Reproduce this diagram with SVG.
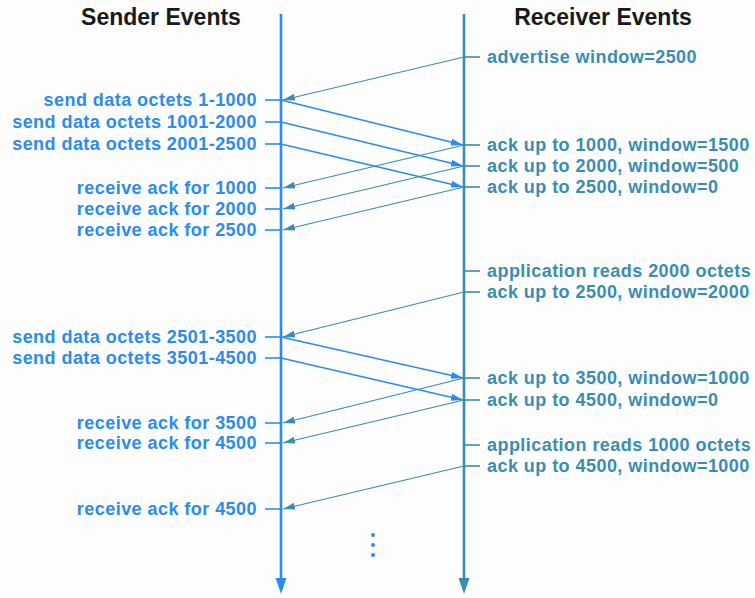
<svg xmlns="http://www.w3.org/2000/svg" width="755" height="598" viewBox="0 0 755 598">
  <defs>
    <style>
      .title { font-family: "Liberation Sans", Arial, sans-serif; font-weight: bold; font-size: 23px; fill: #1a1a1a; }
      .s { font-family: "Liberation Sans", Arial, sans-serif; font-weight: bold; font-size: 18px; letter-spacing: 0.45px; fill: #2a8cf0; text-anchor: end; }
      .r { font-family: "Liberation Sans", Arial, sans-serif; font-weight: bold; font-size: 18px; letter-spacing: 0.45px; fill: #3a8db0; }
      .stick { stroke: #2a8cf0; stroke-width: 1.6; }
      .rtick { stroke: #3a8db0; stroke-width: 1.6; }
      .fwd { stroke: #2a8cf0; stroke-width: 1.4; fill: none; marker-end: url(#ab); }
      .back { stroke: #3a8db0; stroke-width: 1.2; fill: none; marker-end: url(#at); }
    </style>
    <marker id="ab" viewBox="0 0 12 7" refX="12" refY="3.5" markerWidth="12" markerHeight="7" markerUnits="userSpaceOnUse" orient="auto">
      <path d="M0,0 L12,3.5 L0,7 z" fill="#2a8cf0"/>
    </marker>
    <marker id="at" viewBox="0 0 12 7" refX="12" refY="3.5" markerWidth="12" markerHeight="7" markerUnits="userSpaceOnUse" orient="auto">
      <path d="M0,0 L12,3.5 L0,7 z" fill="#3a8db0"/>
    </marker>
  </defs>
  <rect width="755" height="598" fill="#fdfdfd"/>

  <g id="sender-axis">
    <text class="title" x="161" y="25" text-anchor="middle">Sender Events</text>
    <line x1="281" y1="14" x2="281" y2="580" stroke="#2a8cf0" stroke-width="2.6"/>
    <path d="M275.5,578 L286.5,578 L281,594 z" fill="#2a8cf0"/>
  </g>
  <g id="receiver-axis">
    <text class="title" x="603" y="25" text-anchor="middle">Receiver Events</text>
    <line x1="464" y1="14" x2="464" y2="580" stroke="#3a8db0" stroke-width="2.6"/>
    <path d="M458.5,578 L469.5,578 L464,594 z" fill="#3a8db0"/>
  </g>

  <g id="s1"><line class="stick" x1="265" y1="100" x2="281" y2="100"/><text class="s" x="257" y="106">send data octets 1-1000</text></g>
  <g id="s2"><line class="stick" x1="265" y1="122" x2="281" y2="122"/><text class="s" x="257" y="128">send data octets 1001-2000</text></g>
  <g id="s3"><line class="stick" x1="265" y1="144" x2="281" y2="144"/><text class="s" x="257" y="150">send data octets 2001-2500</text></g>
  <g id="s4"><line class="stick" x1="265" y1="188" x2="281" y2="188"/><text class="s" x="257" y="194">receive ack for 1000</text></g>
  <g id="s5"><line class="stick" x1="265" y1="209" x2="281" y2="209"/><text class="s" x="257" y="215">receive ack for 2000</text></g>
  <g id="s6"><line class="stick" x1="265" y1="230" x2="281" y2="230"/><text class="s" x="257" y="236">receive ack for 2500</text></g>
  <g id="s7"><line class="stick" x1="265" y1="337" x2="281" y2="337"/><text class="s" x="257" y="343">send data octets 2501-3500</text></g>
  <g id="s8"><line class="stick" x1="265" y1="358" x2="281" y2="358"/><text class="s" x="257" y="364">send data octets 3501-4500</text></g>
  <g id="s9"><line class="stick" x1="265" y1="423" x2="281" y2="423"/><text class="s" x="257" y="429">receive ack for 3500</text></g>
  <g id="s10"><line class="stick" x1="265" y1="443" x2="281" y2="443"/><text class="s" x="257" y="449">receive ack for 4500</text></g>
  <g id="s11"><line class="stick" x1="265" y1="509" x2="281" y2="509"/><text class="s" x="257" y="515">receive ack for 4500</text></g>

  <g id="r1"><line class="rtick" x1="464" y1="57" x2="480" y2="57"/><text class="r" x="487" y="63">advertise window=2500</text></g>
  <g id="r2"><line class="rtick" x1="464" y1="145" x2="480" y2="145"/><text class="r" x="487" y="151">ack up to 1000, window=1500</text></g>
  <g id="r3"><line class="rtick" x1="464" y1="166" x2="480" y2="166"/><text class="r" x="487" y="172">ack up to 2000, window=500</text></g>
  <g id="r4"><line class="rtick" x1="464" y1="187" x2="480" y2="187"/><text class="r" x="487" y="193">ack up to 2500, window=0</text></g>
  <g id="r5"><line class="rtick" x1="464" y1="271" x2="480" y2="271"/><text class="r" x="487" y="277">application reads 2000 octets</text></g>
  <g id="r6"><line class="rtick" x1="464" y1="292" x2="480" y2="292"/><text class="r" x="487" y="298">ack up to 2500, window=2000</text></g>
  <g id="r7"><line class="rtick" x1="464" y1="378" x2="480" y2="378"/><text class="r" x="487" y="384">ack up to 3500, window=1000</text></g>
  <g id="r8"><line class="rtick" x1="464" y1="400" x2="480" y2="400"/><text class="r" x="487" y="406">ack up to 4500, window=0</text></g>
  <g id="r9"><line class="rtick" x1="464" y1="445" x2="480" y2="445"/><text class="r" x="487" y="451">application reads 1000 octets</text></g>
  <g id="r10"><line class="rtick" x1="464" y1="466" x2="480" y2="466"/><text class="r" x="487" y="472">ack up to 4500, window=1000</text></g>

  <g id="connectors">
    <line class="back" x1="464" y1="57" x2="283" y2="100"/>
    <line class="fwd" x1="281" y1="100" x2="463" y2="145"/>
    <line class="fwd" x1="281" y1="122" x2="463" y2="166"/>
    <line class="fwd" x1="281" y1="144" x2="463" y2="187"/>
    <line class="back" x1="464" y1="145" x2="283" y2="188"/>
    <line class="back" x1="464" y1="166" x2="283" y2="209"/>
    <line class="back" x1="464" y1="187" x2="283" y2="230"/>
    <line class="back" x1="464" y1="292" x2="283" y2="337"/>
    <line class="fwd" x1="281" y1="337" x2="463" y2="378"/>
    <line class="fwd" x1="281" y1="358" x2="463" y2="400"/>
    <line class="back" x1="464" y1="378" x2="283" y2="423"/>
    <line class="back" x1="464" y1="400" x2="283" y2="443"/>
    <line class="back" x1="464" y1="466" x2="283" y2="509"/>
  </g>

  <g id="ellipsis" fill="#2a8cf0">
    <circle cx="373" cy="535" r="2"/>
    <circle cx="373" cy="545" r="2"/>
    <circle cx="373" cy="555" r="2"/>
  </g>
</svg>
